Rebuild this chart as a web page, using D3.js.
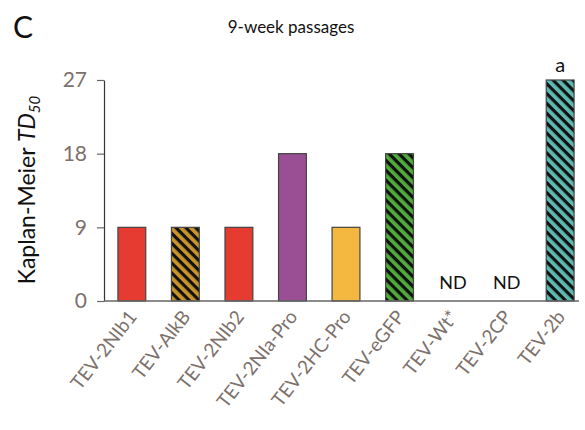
<!DOCTYPE html>
<html>
<head>
<meta charset="utf-8">
<script src="https://cdn.jsdelivr.net/npm/d3@7"></script>
<style>
  body { margin: 0; background: #fff; }
  text { font-family: Lato, "Open Sans", sans-serif; }
</style>
</head>
<body>
<div id="chart"></div>
<script>
// data
const categories = ["TEV-2NIb1", "TEV-AlkB", "TEV-2NIb2", "TEV-2NIa-Pro", "TEV-2HC-Pro",
                    "TEV-eGFP", "TEV-Wt*", "TEV-2CP", "TEV-2b"];
const values = [9, 9, 9, 18, 9, 18, null, null, 27];
const fills = ["#e53b31", "#c9952b", "#e53b31", "#9a4f95", "#f4b73f", "#4fac3b", "none", "none", "#5cbab2"];
const hatched = [false, true, false, false, false, true, false, false, true];
const notes = ["", "", "", "", "", "", "ND", "ND", "a"];
const yTicks = [0, 9, 18, 27];

const W = 585, H = 430;
const svg = d3.select("#chart").append("svg")
    .attr("width", W).attr("height", H);

// hatch pattern, stripes running top-left to bottom-right
const defs = svg.append("defs");
const pat = defs.append("pattern")
    .attr("id", "hatch")
    .attr("patternUnits", "userSpaceOnUse")
    .attr("width", 7).attr("height", 7)
    .attr("patternTransform", "rotate(45)");
pat.append("rect").attr("width", 7).attr("height", 3.2).attr("y", 0).attr("fill", "#111");

const x = d3.scaleBand().domain(categories).range([104, 588]).paddingInner(0.48).paddingOuter(0.26);
const y = d3.scaleLinear().domain([0, 27]).range([301, 80]);

// y axis
const yAxis = svg.append("g")
    .attr("transform", "translate(104,0)")
    .call(d3.axisLeft(y).tickValues(yTicks).tickSize(7).tickSizeOuter(0).tickPadding(10));
yAxis.select(".domain").attr("stroke", "#333").attr("stroke-width", 1.2);
yAxis.selectAll(".tick line").attr("stroke", "#666").attr("stroke-width", 1.2);
yAxis.selectAll(".tick text")
    .attr("fill", "#7d716c")
    .style("font-size", "21px")
    .style("font-family", "Lato, 'Open Sans', sans-serif");

// bars
const bars = svg.append("g");
categories.forEach(function(c, i) {
  if (values[i] == null) return;
  const bx = x(c), bw = x.bandwidth(), by = y(values[i]), bh = y(0) - y(values[i]);
  bars.append("rect")
      .attr("x", bx).attr("y", by).attr("width", bw).attr("height", bh)
      .attr("fill", fills[i]);
  if (hatched[i]) {
    bars.append("rect")
        .attr("x", bx).attr("y", by).attr("width", bw).attr("height", bh)
        .attr("fill", "url(#hatch)");
  }
  bars.append("rect")
      .attr("x", bx).attr("y", by).attr("width", bw).attr("height", bh)
      .attr("fill", "none").attr("stroke", "#444").attr("stroke-width", 1.2);
});

// baseline
svg.append("line")
    .attr("x1", 104).attr("x2", 579)
    .attr("y1", y(0)).attr("y2", y(0))
    .attr("stroke", "#666").attr("stroke-width", 1.5);

// notes (ND, a)
categories.forEach(function(c, i) {
  if (!notes[i]) return;
  const cx = x(c) + x.bandwidth() / 2;
  const ty = values[i] == null ? 289 : y(values[i]) - 8;
  svg.append("text")
      .attr("x", cx).attr("y", ty)
      .attr("text-anchor", "middle")
      .attr("fill", "#111")
      .style("font-size", values[i] == null ? "18px" : "20px")
      .text(notes[i]);
});

// category labels
categories.forEach(function(c) {
  const cx = x(c) + x.bandwidth() / 2 + 6;
  svg.append("text")
      .attr("transform", "translate(" + cx + ",317) rotate(-52)")
      .attr("text-anchor", "end")
      .attr("fill", "#7d716c")
      .style("font-size", "19px")
      .text(c);
});

// y label
const yl = svg.append("text")
    .attr("transform", "translate(35,190) rotate(-90)")
    .attr("text-anchor", "middle")
    .attr("fill", "#111")
    .style("font-size", "23px");
yl.append("tspan").text("Kaplan-Meier ");
yl.append("tspan").style("font-style", "italic").text("TD");
yl.append("tspan").style("font-style", "italic").style("font-size", "15px").attr("dy", 5).text("50");

// title and panel letter
svg.append("text")
    .attr("x", 291).attr("y", 33)
    .attr("text-anchor", "middle")
    .attr("fill", "#111")
    .style("font-size", "17px")
    .text("9-week passages");
svg.append("text")
    .attr("x", 13).attr("y", 38)
    .attr("fill", "#111")
    .style("font-size", "30px")
    .text("C");
</script>
</body>
</html>
